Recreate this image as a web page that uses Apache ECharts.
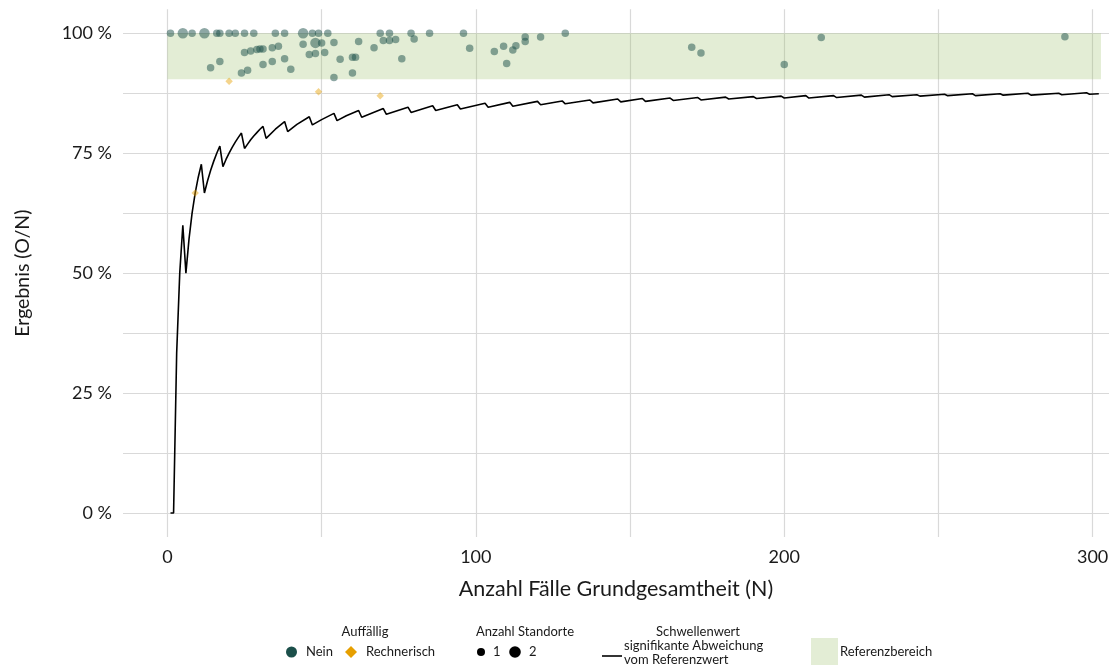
<!DOCTYPE html>
<html>
<head>
<meta charset="utf-8">
<script src="https://cdn.jsdelivr.net/npm/echarts@6/dist/echarts.min.js"></script>
<style>
html,body{margin:0;padding:0;background:#fff;}
#chart{width:1115px;height:668px;}
</style>
</head>
<body>
<div id="chart"></div>
<script>
// ---- Data ----
// Threshold line vertices (N, percent)
const thresholdN = [1,2,3,4,5,6,7,8,9,10,11,12,13,14,15,16,17,18,19,20,21,22,23,24,25,26,27,28,29,30,31,32,35,38,39,42,46,47,50,54,55,58,62,63,70,71,78,79,86,87,94,95,103,104,111,112,120,121,128,129,137,138,146,147,154,155,163,164,172,173,181,182,190,191,199,200,207,208,216,217,225,226,234,235,243,244,252,253,261,262,270,271,279,280,289,290,298,299,302];
const thresholdPct = [0,0,33.3,50,60,50,57.1,62.5,66.7,70,72.7,66.7,69.2,71.4,73.3,75,76.5,72.2,73.7,75,76.2,77.3,78.3,79.2,76,76.9,77.8,78.6,79.3,80,80.6,78.1,80,81.6,79.5,81.0,82.6,80.9,82.0,83.3,81.8,82.8,83.9,82.5,84.3,83.1,84.6,83.5,84.9,83.9,85.1,84.2,85.4,84.6,85.6,84.8,85.8,85.1,85.9,85.3,86.1,85.5,86.3,85.7,86.4,85.8,86.5,86.0,86.6,86.1,86.7,86.3,86.8,86.4,86.9,86.5,87.0,86.5,87.0,86.6,87.1,86.7,87.2,86.8,87.2,86.9,87.3,87.0,87.4,87.0,87.4,87.1,87.5,87.1,87.5,87.2,87.6,87.3,87.4];

// Auffällig: Nein
const neinN     = [1,5,8,12,16,17,20,22,25,28,35,38,44,47,49,52,69,72,79,85,96,129,
                   14,17,24,26,25,27,29,30,31,31,34,36,34,38,40,44,46,48,48,50,51,54,54,56,60,60,61,62,67,70,72,74,76,80,98,106,109,110,112,113,116,116,121,170,173,200,212,291];
const neinPct   = [100,100,100,100,100,100,100,100,100,100,100,100,100,100,100,100,100,100,100,100,100,100,
                   92.8,94.1,91.7,92.3,96.0,96.3,96.6,96.7,96.7,93.5,97.0,97.3,94.1,94.7,92.5,97.7,95.6,95.8,98.0,98.0,96.0,98.1,90.8,94.6,91.7,95.0,95.0,98.3,97.0,98.5,98.5,98.7,94.7,98.8,96.9,96.2,97.3,93.7,96.5,97.4,99.2,98.3,99.2,97.1,95.9,93.5,99.1,99.3];
const neinSites = [1,2,1,2,1,1,1,1,1,1,1,1,2,1,1,1,1,1,1,1,1,1,
                   1,1,1,1,1,1,1,1,1,1,1,1,1,1,1,1,1,1,2,1,1,1,1,1,1,1,1,1,1,1,1,1,1,1,1,1,1,1,1,1,1,1,1,1,1,1,1,1];

// Auffällig: Rechnerisch
const rechN     = [9,20,49,69];
const rechPct   = [66.7,90.0,87.8,87.0];
const rechSites = [1,1,1,1];

// Reference range
const refBandN   = [0, 302.7];
const refBandPct = [90.4, 100];

// Axis tick labels
const xTickLabels = [0,100,200,300];
const yTickLabels = [0,25,50,75,100];

// ---- Chart ----
const FONT = 'Lato, "Open Sans", sans-serif';
const teal = '#1b4f4a';
const orange = '#E69F00';

const thresholdData = thresholdN.map((n,i)=>[n, thresholdPct[i]]);
const neinData = neinN.map((n,i)=>[n, neinPct[i], neinSites[i]]);
const rechData = rechN.map((n,i)=>[n, rechPct[i], rechSites[i]]);
const sizeFn = v => v[2] === 2 ? 10.5 : 7.5;

const chart = echarts.init(document.getElementById('chart'), null, {renderer:'canvas'});

const legendFont = '13px ' + FONT;
const legendColor = '#1a1a1a';
const LY = 652;

const option = {
  backgroundColor:'#ffffff',
  animation:false,
  grid:{left:123, right:6, top:9.3, bottom:131, containLabel:false},
  xAxis:{
    type:'value', min:-14.4, max:305.3, splitNumber:6, minInterval:50, maxInterval:50,
    axisLine:{show:false}, axisTick:{show:false},
    axisLabel:{
      fontFamily:FONT, fontSize:18, color:'#1a1a1a', margin:11,
      showMinLabel:false, showMaxLabel:false,
      formatter: v => xTickLabels.indexOf(Math.round(v*1000)/1000) >= 0 ? String(v) : ''
    },
    splitLine:{show:true, showMinLine:false, showMaxLine:false, lineStyle:{color:'#d9d9d9', width:1.2}},
    name:'Anzahl Fälle Grundgesamtheit (N)', nameLocation:'middle', nameGap:41,
    nameTextStyle:{fontFamily:FONT, fontSize:21.5, color:'#1a1a1a'}
  },
  yAxis:{
    type:'value', min:-5, max:105, splitNumber:8, minInterval:12.5, maxInterval:12.5,
    axisLine:{show:false}, axisTick:{show:false},
    axisLabel:{
      fontFamily:FONT, fontSize:18, color:'#1a1a1a', margin:11,
      showMinLabel:false, showMaxLabel:false,
      formatter: v => yTickLabels.indexOf(Math.round(v*1000)/1000) >= 0 ? v + ' %' : ''
    },
    splitLine:{show:true, showMinLine:false, showMaxLine:false, lineStyle:{color:'#d9d9d9', width:1.2}},
    name:'Ergebnis (O/N)', nameLocation:'middle', nameGap:90,
    nameTextStyle:{fontFamily:FONT, fontSize:19.5, color:'#1a1a1a'}
  },
  series:[
    {
      name:'Referenzbereich', type:'line', data:[], z:1, silent:true,
      markArea:{
        silent:true, z:1,
        itemStyle:{color:'rgba(150,190,100,0.27)'},
        data:[[{coord:[refBandN[0], refBandPct[0]]},{coord:[refBandN[1], refBandPct[1]]}]]
      }
    },
    {
      name:'Schwellenwert', type:'line', data:thresholdData, z:3,
      showSymbol:false, symbol:'none', smooth:false,
      lineStyle:{color:'#000000', width:1.6}, silent:true
    },
    {
      name:'Rechnerisch', type:'scatter', data:rechData, z:4,
      symbol:'diamond', symbolSize:sizeFn,
      itemStyle:{color:orange, opacity:0.45}
    },
    {
      name:'Nein', type:'scatter', data:neinData, z:5,
      symbol:'circle', symbolSize:sizeFn,
      itemStyle:{color:teal, opacity:0.5}
    }
  ],
  graphic:[
    // Auffällig
    {type:'text', style:{text:'Auffällig', x:365, y:632, font:legendFont, fill:legendColor, textAlign:'center', textVerticalAlign:'middle'}},
    {type:'circle', shape:{cx:291.5, cy:LY, r:5.5}, style:{fill:teal}},
    {type:'text', style:{text:'Nein', x:306, y:LY, font:legendFont, fill:legendColor, textVerticalAlign:'middle'}},
    {type:'polygon', shape:{points:[[351,LY-6],[357,LY],[351,LY+6],[345,LY]]}, style:{fill:orange}},
    {type:'text', style:{text:'Rechnerisch', x:366, y:LY, font:legendFont, fill:legendColor, textVerticalAlign:'middle'}},
    // Anzahl Standorte
    {type:'text', style:{text:'Anzahl Standorte', x:525, y:632, font:legendFont, fill:legendColor, textAlign:'center', textVerticalAlign:'middle'}},
    {type:'circle', shape:{cx:481, cy:LY, r:4}, style:{fill:'#000'}},
    {type:'text', style:{text:'1', x:493, y:LY, font:legendFont, fill:legendColor, textVerticalAlign:'middle'}},
    {type:'circle', shape:{cx:515, cy:LY, r:5.8}, style:{fill:'#000'}},
    {type:'text', style:{text:'2', x:529, y:LY, font:legendFont, fill:legendColor, textVerticalAlign:'middle'}},
    // Schwellenwert
    {type:'text', style:{text:'Schwellenwert', x:698, y:632, font:legendFont, fill:legendColor, textAlign:'center', textVerticalAlign:'middle'}},
    {type:'line', shape:{x1:602, y1:656, x2:622, y2:656}, style:{stroke:'#000', lineWidth:1.6}},
    {type:'text', style:{text:'signifikante Abweichung', x:624, y:646, font:legendFont, fill:legendColor, textVerticalAlign:'middle'}},
    {type:'text', style:{text:'vom Referenzwert', x:624, y:660, font:legendFont, fill:legendColor, textVerticalAlign:'middle'}},
    // Referenzbereich
    {type:'rect', shape:{x:811, y:638, width:27, height:27}, style:{fill:'#e3edd5'}},
    {type:'text', style:{text:'Referenzbereich', x:840, y:LY, font:legendFont, fill:legendColor, textVerticalAlign:'middle'}}
  ]
};
chart.setOption(option);
</script>
</body>
</html>
